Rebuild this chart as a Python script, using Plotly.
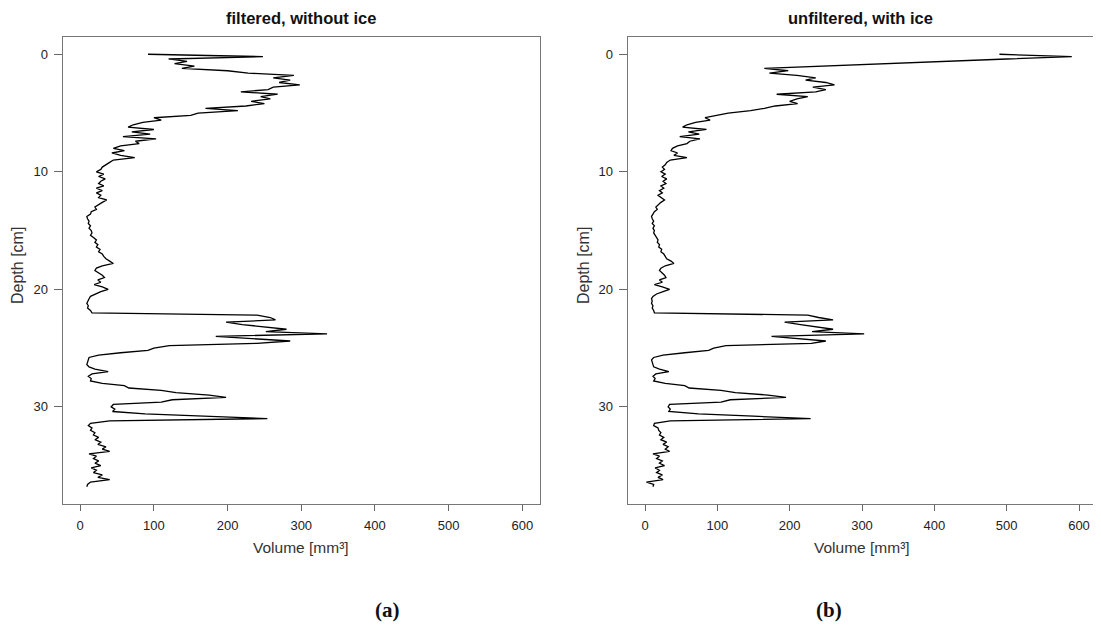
import plotly.graph_objects as go

vol_filtered = [
    92, 248, 120, 145, 128, 155, 138, 200, 228, 290,
    262, 285, 270, 298, 262, 255, 218, 268, 245, 258,
    232, 250, 225, 170, 214, 160, 150, 100, 110, 85,
    72, 65, 100, 70, 95, 58, 103, 75, 80, 55,
    45, 60, 43, 55, 74, 45, 40, 35, 30, 28,
    22, 32, 25, 34, 28, 25, 32, 22, 30, 22,
    28, 25, 36, 30, 24, 20, 22, 15, 14, 9,
    10, 12, 11, 14, 12, 15, 16, 14, 18, 22,
    20, 24, 22, 27, 25, 30, 32, 35, 40, 45,
    30, 22, 20, 26, 30, 33, 24, 28, 19, 30,
    38, 28, 20, 14, 12, 10, 9, 11, 10, 14,
    16, 240, 258, 265, 198, 220, 250, 280, 252, 335,
    184, 230, 285, 240, 121, 100, 92, 55, 25, 12,
    11, 10, 9, 12, 20, 38, 16, 11, 15, 14,
    30, 60, 66, 110, 130, 175, 198, 125, 110, 45,
    42, 47, 44, 88, 165, 254, 40, 14, 11, 16,
    14, 20, 18, 25, 20, 28, 24, 35, 30, 40,
    12, 22, 18, 25, 20, 28, 15, 22, 18, 30,
    24, 40, 14, 10, 9,
]

vol_unfiltered = [
    490, 590, 500, 410, 320, 228, 165, 198, 172, 210,
    236, 222, 250, 262, 232, 250, 236, 182, 225, 210,
    200, 211, 180, 165, 146, 115, 100, 83, 90, 70,
    58, 52, 85, 60, 75, 48, 76, 62, 58, 45,
    38, 36, 45, 40, 58, 35, 30, 28, 24, 27,
    22, 28, 23, 30, 25, 29, 22, 26, 20, 24,
    18, 22, 27, 22, 18, 15, 17, 13, 11, 9,
    10, 12, 10, 13, 11, 13, 12, 14, 16, 18,
    17, 20, 19, 23, 22, 26, 28, 30, 36, 40,
    28, 22, 20, 24, 27, 29, 20, 24, 13, 24,
    34, 25, 16, 11, 9, 10, 9, 11, 10, 12,
    13, 225, 240, 260, 193, 215, 240, 260, 231, 303,
    175, 215, 250, 230, 112, 95, 88, 55, 25, 12,
    9, 10, 11, 12, 20, 33, 15, 11, 14, 12,
    28, 55, 61, 105, 125, 170, 195, 118, 105, 34,
    32, 35, 33, 74, 150, 229, 35, 13, 12, 18,
    19, 22, 20, 26, 22, 30, 25, 32, 28, 34,
    11, 20, 16, 24, 20, 27, 14, 20, 16, 24,
    18, 25, 2, 12, 11,
]

depth_step = 0.2
depth_a = [round(i * depth_step, 1) for i in range(len(vol_filtered))]
depth_b = [round(i * depth_step, 1) for i in range(len(vol_unfiltered))]

x_ticks = [0, 100, 200, 300, 400, 500, 600]
y_ticks = [0, 10, 20, 30]
titles = ["filtered, without ice", "unfiltered, with ice"]
x_title = "Volume [mm³]"
y_title = "Depth [cm]"
panel_labels = ["(a)", "(b)"]

OFF = 8  # default page body margin
W, H = 1101 - 2 * OFF, 631 - 2 * OFF
FONT = "Liberation Sans, Arial, sans-serif"

def px(x):
    return (x - OFF) / W

def py(y):
    return 1 - (y - OFF) / H

fig = go.Figure()
fig.add_trace(go.Scatter(x=vol_filtered, y=depth_a, mode="lines",
                         line=dict(color="black", width=1.3),
                         xaxis="x", yaxis="y", showlegend=False))
fig.add_trace(go.Scatter(x=vol_unfiltered, y=depth_b, mode="lines",
                         line=dict(color="black", width=1.3),
                         xaxis="x2", yaxis="y2", showlegend=False))

ydom = [py(504), py(37)]
common_x = dict(tickvals=x_ticks, ticks="outside", ticklen=6, tickcolor="#666",
                showline=True, linecolor="#777", linewidth=1, mirror=True,
                showgrid=False, zeroline=False, ticklabelstandoff=3,
                autorange=False,
                tickfont=dict(family=FONT, size=13, color="#222"))
common_y = dict(tickvals=y_ticks, ticks="outside", ticklen=8, tickcolor="#666",
                showline=True, linecolor="#777", linewidth=1,
                showgrid=False, zeroline=False, ticklabelstandoff=3,
                tickfont=dict(family=FONT, size=13, color="#222"),
                range=[38.27, -1.47], autorange=False, domain=ydom)

# panel b: 0 at x=645 px, slightly compressed so that the "600" label stays visible
b_scale = (1079 - 645) / 600.0
b_left = 645 - 24 * b_scale
b_right_val = (OFF + W - 645) / b_scale

fig.update_layout(
    width=W, height=H,
    margin=dict(l=0, r=0, t=0, b=0),
    paper_bgcolor="white", plot_bgcolor="white",
    xaxis=dict(domain=[px(62.5), px(540)], range=[-24, 624], anchor="y", **common_x),
    yaxis=dict(anchor="x", mirror=True, **common_y),
    xaxis2=dict(domain=[px(b_left), 1.0], range=[-24, b_right_val], anchor="y2", **common_x),
    yaxis2=dict(anchor="x2", mirror=False, **common_y),
)

anns = []
for cx, t in zip([301, 860], titles):
    anns.append(dict(x=px(cx), y=py(18), xref="paper", yref="paper", text=f"<b>{t}</b>",
                     showarrow=False, xanchor="center", yanchor="middle",
                     font=dict(family=FONT, size=16.5, color="#111")))
for cx in [301, 862]:
    anns.append(dict(x=px(cx), y=py(547), xref="paper", yref="paper", text=x_title,
                     showarrow=False, xanchor="center", yanchor="middle",
                     font=dict(family=FONT, size=15.5, color="#333")))
for cx in [18, 584]:
    anns.append(dict(x=px(cx), y=py(266), xref="paper", yref="paper", text=y_title,
                     showarrow=False, xanchor="center", yanchor="middle", textangle=-90,
                     font=dict(family=FONT, size=16, color="#333")))
for cx, t in zip([387, 829], panel_labels):
    anns.append(dict(x=px(cx), y=py(610), xref="paper", yref="paper", text=f"<b>{t}</b>",
                     showarrow=False, xanchor="center", yanchor="middle",
                     font=dict(family="Liberation Serif, DejaVu Serif, serif", size=21, color="#111")))
fig.update_layout(annotations=anns)

fig.write_html("out.html")
